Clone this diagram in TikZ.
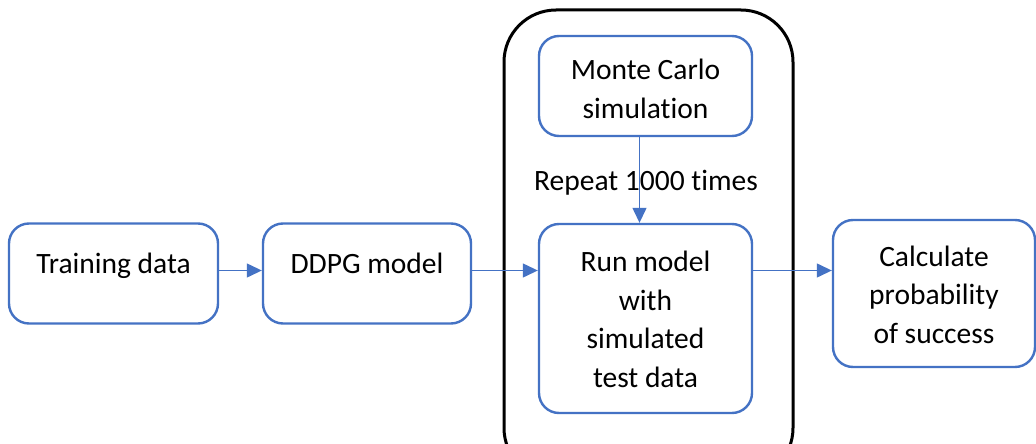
\documentclass[tikz,border=0pt]{standalone}
\usepackage{fontspec}
\setmainfont{Carlito}[Ligatures=NoCommon]
\usetikzlibrary{arrows.meta}
\definecolor{boxblue}{HTML}{4472C4}
\tikzset{
  bbox/.style={draw=boxblue, line width=2.4pt, rounded corners=20pt, inner sep=0pt},
  txt/.style={align=center, inner sep=0pt, anchor=base, font=\fontsize{29.5}{38.5}\selectfont},
  conn/.style={draw=boxblue, line width=1.3pt, -{Triangle[length=15pt,width=14pt]}}
}
\begin{document}
\begin{tikzpicture}[x=1pt,y=-1pt]
\useasboundingbox (0,0) rectangle (1036,444);
\fill[white] (0,0) rectangle (1036,444);
\begin{scope}
\clip (0,0) rectangle (1036,444);
\draw[line width=3pt, rounded corners=52pt] (504,10) rectangle (793,480);
\node[bbox, minimum width=209pt, minimum height=100pt] (train) at (113.5,273.5) {};
\node[bbox, minimum width=208pt, minimum height=100pt] (ddpg) at (367,273.5) {};
\node[bbox, minimum width=213pt, minimum height=100pt] (mc) at (645.5,86) {};
\node[bbox, minimum width=213pt, minimum height=189pt] (run) at (645.5,318.5) {};
\node[bbox, minimum width=202pt, minimum height=147pt] (calc) at (934,293.5) {};
\end{scope}
\node[txt] (ttrain) at (113.5,273) {Training data};
\node[txt] (tddpg) at (367,273) {DDPG model};
\node[txt] (tmc) at (645.5,118) {Monte Carlo\\simulation};
\node[txt] (trun) at (645.5,387) {Run model\\with\\simulated\\test data};
\node[txt] (tcalc) at (934,343) {Calculate\\probability\\of success};
\draw[conn] ([yshift=3pt]train.east) -- ([yshift=3pt]ddpg.west);
\draw[conn] ([yshift=3pt]ddpg.east) -- ([yshift=3pt]ddpg.east -| run.west);
\draw[conn] ([yshift=3pt]ddpg.east -| run.east) -- ([yshift=3pt]ddpg.east -| calc.west);
\draw[conn] ([xshift=-6pt]mc.south) -- ([xshift=-6pt]run.north);
\node[txt] (trep) at (646,190) {Repeat 1000 times};
\end{tikzpicture}
\end{document}
